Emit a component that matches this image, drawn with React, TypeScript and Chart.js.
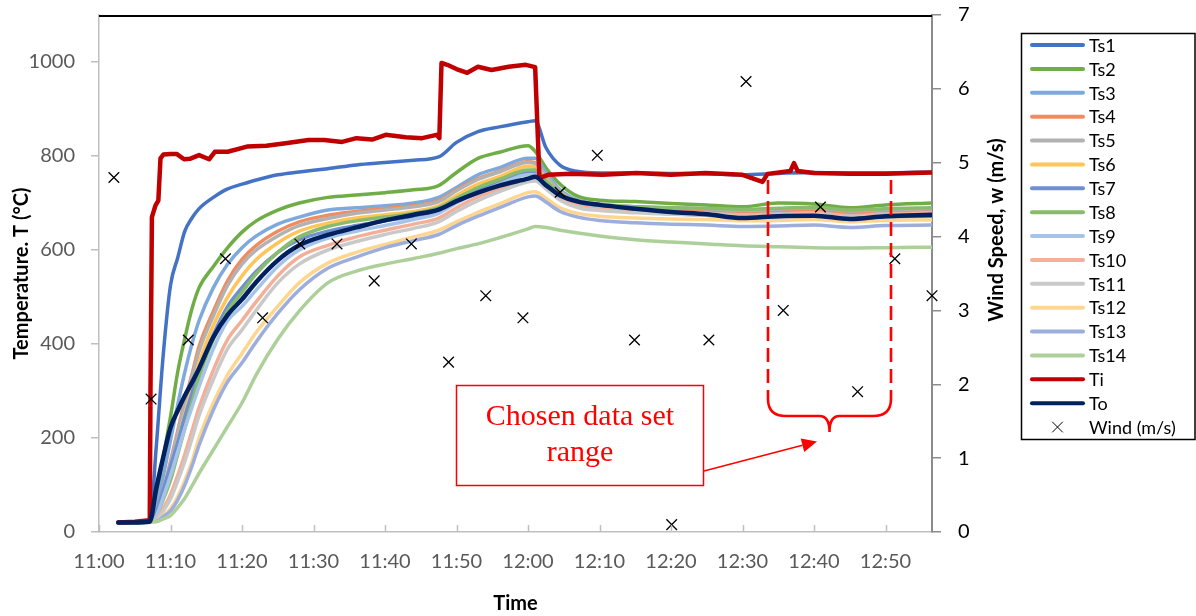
import React, { useEffect, useRef } from "react";
import { Chart, registerables } from "chart.js";

Chart.register(...registerables);

// ---------- DATA ----------
// minutes after 11:00
const GRID_MIN = [2.7, 7.1, 8, 9, 10, 11, 12, 13, 14, 16, 18, 20, 22, 25, 28, 32, 36, 40, 44, 47.5, 50, 53, 56, 60, 61, 62.5, 64.5, 67, 70, 75, 80, 85, 90, 95, 100, 105, 110, 116.5];

const TS1 = [20, 22, 180, 380, 525, 583, 640, 668, 688, 712, 730, 740, 749, 760, 766, 773, 781, 786, 791, 798, 829, 852, 862, 873, 875, 818, 780, 767, 764, 764, 763, 762, 760, 763, 765, 764, 764, 766];
const TS2 = [20, 22, 70, 160, 245, 340, 412, 475, 520, 565, 605, 638, 662, 685, 700, 712, 717, 722, 728, 737, 765, 795, 808, 822, 810, 775, 740, 714, 706, 703, 699, 696, 692, 700, 698, 690, 696, 700];
const TS3 = [20, 22, 55, 120, 195, 270, 340, 400, 450, 520, 570, 605, 630, 655, 670, 685, 690, 694, 700, 712, 733, 760, 775, 795, 795, 765, 728, 706, 697, 692, 688, 685, 681, 683, 685, 679, 683, 685];
const TS4 = [20, 22, 40, 90, 150, 215, 280, 335, 395, 470, 535, 580, 610, 640, 660, 674, 682, 688, 694, 705, 728, 752, 767, 788, 786, 757, 722, 702, 694, 689, 685, 683, 679, 681, 683, 677, 680, 682];
const TS5 = [20, 22, 38, 85, 145, 210, 272, 328, 385, 460, 525, 570, 600, 630, 652, 667, 678, 685, 692, 703, 726, 750, 766, 786, 784, 758, 725, 705, 698, 692, 690, 688, 684, 687, 690, 683, 686, 688];
const TS6 = [20, 22, 35, 78, 130, 190, 250, 305, 360, 440, 500, 545, 580, 615, 640, 657, 668, 675, 682, 694, 716, 740, 756, 778, 776, 750, 718, 698, 690, 684, 680, 677, 673, 675, 677, 671, 675, 677];
const TS7 = [20, 22, 40, 90, 140, 190, 245, 295, 345, 420, 480, 520, 555, 595, 622, 640, 652, 662, 672, 684, 705, 728, 745, 765, 765, 742, 713, 697, 688, 682, 677, 674, 669, 671, 673, 667, 670, 672];
const TS8 = [20, 22, 30, 70, 110, 165, 220, 275, 330, 410, 470, 510, 550, 595, 628, 650, 662, 670, 678, 690, 710, 733, 750, 770, 770, 748, 720, 703, 696, 692, 690, 689, 686, 689, 691, 685, 688, 690];
const TS9 = [20, 22, 33, 75, 120, 170, 220, 265, 310, 390, 450, 480, 515, 565, 600, 625, 640, 652, 665, 678, 700, 722, 740, 760, 760, 740, 712, 695, 688, 683, 680, 678, 675, 677, 679, 673, 677, 679];
const TS10 = [20, 22, 25, 50, 80, 120, 165, 215, 265, 345, 410, 450, 490, 545, 585, 610, 628, 642, 655, 668, 690, 713, 730, 750, 752, 735, 710, 694, 687, 682, 679, 677, 674, 676, 678, 672, 676, 678];
const TS11 = [20, 22, 24, 45, 70, 108, 150, 198, 248, 325, 390, 430, 472, 530, 570, 600, 618, 633, 646, 660, 682, 705, 724, 745, 747, 730, 706, 690, 684, 679, 676, 674, 671, 673, 675, 669, 673, 675];
const TS12 = [20, 22, 23, 35, 50, 75, 110, 150, 200, 275, 335, 380, 425, 480, 530, 572, 595, 612, 628, 642, 660, 680, 698, 722, 724, 710, 690, 678, 672, 668, 666, 665, 662, 663, 665, 660, 663, 664];
const TS13 = [20, 22, 23, 33, 45, 68, 100, 140, 185, 260, 320, 360, 405, 465, 515, 561, 585, 605, 620, 633, 652, 672, 690, 713, 715, 702, 682, 670, 663, 658, 655, 653, 650, 651, 653, 648, 652, 653];
const TS14 = [20, 22, 22, 28, 35, 52, 72, 98, 125, 175, 225, 275, 335, 410, 470, 530, 555, 570, 582, 593, 603, 613, 626, 645, 650, 648, 642, 636, 630, 622, 617, 613, 609, 607, 605, 604, 605, 606];
const TO = [20, 22, 92, 160, 222, 258, 290, 318, 348, 415, 462, 495, 532, 578, 610, 632, 648, 663, 675, 686, 704, 722, 737, 752, 756, 738, 716, 703, 696, 688, 681, 676, 668, 672, 673, 666, 672, 675];

const TI_MIN = [2.7, 5, 7.1, 7.2, 7.4, 7.9, 8.3, 8.6, 9.0, 10, 10.9, 11.9, 12.7, 14, 15.4, 16.2, 18, 20.7, 23.4, 26.1, 29.3, 31.5, 34, 36, 38.2, 40.1, 42.9, 45.2, 47.2, 47.6, 47.9, 48.7, 50, 51.5, 53, 54.9, 57.3, 59.7, 61, 61.3, 61.6, 62.8, 66, 70.4, 75.2, 80, 84.8, 90, 92.8, 93.5, 96.7, 97.2, 97.7, 100, 105, 110, 116.5];
const TI = [20, 22, 25, 300, 670, 695, 705, 795, 803, 804, 804, 793, 794, 802, 793, 809, 809, 820, 822, 827, 834, 834, 830, 838, 835, 845, 840, 838, 845, 838, 998, 994, 985, 977, 990, 983, 990, 994, 989, 870, 753, 760, 762, 760, 764, 760, 764, 760, 745, 762, 768, 785, 768, 764, 762, 762, 765];

const WIND_MIN = [2, 7, 12, 17, 22, 27, 32, 37, 42, 47, 52, 57, 62, 67, 72, 77, 82, 87, 92, 97, 102, 107, 112];
const WIND = [4.8, 1.8, 2.6, 3.7, 2.9, 3.9, 3.9, 3.4, 3.9, 2.3, 3.2, 2.9, 4.6, 5.1, 2.6, 0.1, 2.6, 6.1, 3.0, 4.4, 1.9, 3.7, 3.2];

const TIME_TICKS = [0, 10, 20, 30, 40, 50, 60, 70, 80, 90, 100, 110];

const TS_NAMES = ["Ts1", "Ts2", "Ts3", "Ts4", "Ts5", "Ts6", "Ts7", "Ts8", "Ts9", "Ts10", "Ts11", "Ts12", "Ts13", "Ts14"];
const TS_VALUES = [TS1, TS2, TS3, TS4, TS5, TS6, TS7, TS8, TS9, TS10, TS11, TS12, TS13, TS14];
const TS_COLORS = ["#4472C4", "#70AD47", "#7EA9DC", "#EF8C62", "#B2B2B2", "#FFC55A", "#6E8FD0", "#88BB6C", "#A6C4E8", "#F4AF98", "#C9C9C9", "#FFD690", "#9DAEDD", "#ADD09A"];
const TI_COLOR = "#C00000";
const TO_COLOR = "#002060";

const FONT = "Lato, 'Liberation Sans', sans-serif";

function fmtTime(v: number) {
  const total = 11 * 60 + Math.round(v);
  const h = Math.floor(total / 60);
  const m = total % 60;
  return `${h}:${m < 10 ? "0" + m : m}`;
}

const noVerticalPadding = (s: any) => {
  s.paddingTop = 0;
  s.paddingBottom = 0;
};

const decorPlugin = {
  id: "decor",
  afterDraw(chart: any) {
    const ctx = chart.ctx as CanvasRenderingContext2D;
    const a = chart.chartArea;
    ctx.save();
    // top frame line
    ctx.strokeStyle = "#000";
    ctx.lineWidth = 2;
    ctx.beginPath();
    ctx.moveTo(a.left, a.top + 1);
    ctx.lineTo(a.right, a.top + 1);
    ctx.stroke();
    // inner x tick marks
    const xs = chart.scales.x;
    ctx.strokeStyle = "#BFBFBF";
    ctx.lineWidth = 1.5;
    TIME_TICKS.forEach((v) => {
      const px = Math.round(xs.getPixelForValue(v)) + 0.5;
      ctx.beginPath();
      ctx.moveTo(px, a.bottom);
      ctx.lineTo(px, a.bottom - 7);
      ctx.stroke();
    });
    // right axis title
    ctx.fillStyle = "#000";
    ctx.font = `bold 20px ${FONT}`;
    ctx.textAlign = "center";
    ctx.textBaseline = "middle";
    ctx.translate(997, 230);
    ctx.rotate(-Math.PI / 2);
    ctx.fillText("Wind Speed, w (m/s)", 0, 0);
    ctx.restore();

    // annotation: chosen data set range
    ctx.save();
    ctx.strokeStyle = "#FF0000";
    ctx.fillStyle = "#FF0000";
    ctx.lineWidth = 1.5;
    ctx.strokeRect(456.5, 385.5, 247, 100);
    ctx.font = "30px 'Liberation Serif', 'Times New Roman', serif";
    ctx.textAlign = "center";
    ctx.textBaseline = "alphabetic";
    ctx.fillText("Chosen data set", 580, 425);
    ctx.fillText("range", 580, 461);
    // arrow
    const x0 = 704, y0 = 471, x1 = 817, y1 = 441.5;
    const ang = Math.atan2(y1 - y0, x1 - x0);
    const hl = 15, hw = 7;
    const bx = x1 - hl * Math.cos(ang), by = y1 - hl * Math.sin(ang);
    ctx.beginPath();
    ctx.moveTo(x0, y0);
    ctx.lineTo(bx, by);
    ctx.stroke();
    ctx.beginPath();
    ctx.moveTo(x1, y1);
    ctx.lineTo(bx + hw * Math.sin(ang), by - hw * Math.cos(ang));
    ctx.lineTo(bx - hw * Math.sin(ang), by + hw * Math.cos(ang));
    ctx.closePath();
    ctx.fill();
    // bracket
    const L = 768, R = 891, top = 180, vEnd = 399, hY = 416, mid = (L + R) / 2, tip = 432;
    ctx.lineWidth = 2.6;
    ctx.setLineDash([14, 7]);
    ctx.beginPath();
    ctx.moveTo(L, top);
    ctx.lineTo(L, vEnd);
    ctx.moveTo(R, top);
    ctx.lineTo(R, vEnd);
    ctx.stroke();
    ctx.setLineDash([]);
    ctx.beginPath();
    ctx.moveTo(L, vEnd);
    ctx.quadraticCurveTo(L, hY, L + 18, hY);
    ctx.lineTo(mid - 10, hY);
    ctx.quadraticCurveTo(mid, hY, mid, tip);
    ctx.quadraticCurveTo(mid, hY, mid + 10, hY);
    ctx.lineTo(R - 18, hY);
    ctx.quadraticCurveTo(R, hY, R, vEnd);
    ctx.stroke();
    ctx.restore();
  },
};

const legendPlugin = {
  id: "boxLegend",
  afterDraw(chart: any) {
    const ctx = chart.ctx as CanvasRenderingContext2D;
    ctx.save();
    ctx.strokeStyle = "#000";
    ctx.lineWidth = 1.5;
    ctx.strokeRect(1021.5, 33.5, 173.5, 406);
    ctx.font = `18px ${FONT}`;
    ctx.textBaseline = "middle";
    ctx.textAlign = "left";
    chart.data.datasets.forEach((ds: any, i: number) => {
      const y = 45 + i * 23.88;
      if (ds.showLine === false) {
        const cx = 1057.5, r = 5;
        ctx.strokeStyle = "#000";
        ctx.lineWidth = 1;
        ctx.beginPath();
        ctx.moveTo(cx - r, y - r);
        ctx.lineTo(cx + r, y + r);
        ctx.moveTo(cx + r, y - r);
        ctx.lineTo(cx - r, y + r);
        ctx.stroke();
      } else {
        ctx.strokeStyle = ds.borderColor;
        ctx.lineWidth = 4;
        ctx.lineCap = "round";
        ctx.beginPath();
        ctx.moveTo(1032, y);
        ctx.lineTo(1083, y);
        ctx.stroke();
      }
      ctx.fillStyle = "#000";
      ctx.fillText(ds.label, 1089, y + 1);
    });
    ctx.restore();
  },
};

export default function App() {
  const ref = useRef<HTMLCanvasElement>(null);

  useEffect(() => {
    const canvas = ref.current;
    if (!canvas) return;
    Chart.defaults.font.family = FONT;

    const tsSets = TS_VALUES.map((vals, k) => ({
      label: TS_NAMES[k],
      data: GRID_MIN.map((t, i) => ({ x: t, y: vals[i] })),
      borderColor: TS_COLORS[k],
      backgroundColor: TS_COLORS[k],
      borderWidth: 3.5,
      pointRadius: 0,
      cubicInterpolationMode: "monotone" as const,
      xAxisID: "x",
      yAxisID: "y",
      order: 16 - k,
    }));

    const datasets: any[] = [
      ...tsSets,
      {
        label: "Ti",
        data: TI_MIN.map((t, i) => ({ x: t, y: TI[i] })),
        borderColor: TI_COLOR,
        backgroundColor: TI_COLOR,
        borderWidth: 4.5,
        pointRadius: 0,
        tension: 0,
        xAxisID: "x",
        yAxisID: "y",
        order: 2,
      },
      {
        label: "To",
        data: GRID_MIN.map((t, i) => ({ x: t, y: TO[i] })),
        borderColor: TO_COLOR,
        backgroundColor: TO_COLOR,
        borderWidth: 4.5,
        pointRadius: 0,
        cubicInterpolationMode: "monotone",
        xAxisID: "x",
        yAxisID: "y",
        order: 1,
      },
      {
        label: "Wind (m/s)",
        data: WIND_MIN.map((t, i) => ({ x: t, y: WIND[i] })),
        showLine: false,
        borderColor: "#000",
        backgroundColor: "#000",
        pointStyle: "crossRot",
        pointRadius: 7.5,
        pointBorderWidth: 1.3,
        xAxisID: "x2",
        yAxisID: "y2",
        clip: false,
        order: 0,
      },
    ];

    const chart = new Chart(canvas, {
      type: "line",
      data: { datasets },
      plugins: [decorPlugin, legendPlugin],
      options: {
        responsive: false,
        devicePixelRatio: 1,
        animation: false,
        events: [],
        layout: { autoPadding: false, padding: { top: 15, right: 175, left: 0, bottom: 0 } },
        plugins: {
          legend: { display: false },
          tooltip: { enabled: false },
        },
        elements: {
          line: { borderJoinStyle: "round", borderCapStyle: "round" },
        },
        scales: {
          x: {
            type: "linear",
            position: "bottom",
            min: 0,
            max: 116.5,
            afterBuildTicks: (s: any) => {
              s.ticks = TIME_TICKS.map((v) => ({ value: v }));
            },
            afterFit: (s: any) => {
              s.height = 84;
              s.paddingLeft = 0;
              s.paddingRight = 0;
            },
            grid: { drawOnChartArea: false, drawTicks: false },
            border: { color: "#BFBFBF", width: 1.5 },
            ticks: {
              color: "#595959",
              font: { size: 20 },
              padding: 18,
              maxRotation: 0,
              autoSkip: false,
              callback: (v: any) => fmtTime(Number(v)),
            },
            title: {
              display: true,
              text: "Time",
              color: "#000",
              font: { size: 20, weight: "bold" },
              padding: { top: 4, bottom: 0 },
            },
          },
          x2: {
            type: "linear",
            display: false,
            min: 0,
            max: 112,
          },
          y: {
            type: "linear",
            position: "left",
            min: 0,
            max: 1100,
            afterFit: (s: any) => {
              s.width = 99;
              noVerticalPadding(s);
            },
            ticks: {
              stepSize: 200,
              includeBounds: false,
              color: "#595959",
              font: { size: 20 },
              padding: 16,
              callback: (v: any) => String(v),
            },
            grid: { drawOnChartArea: false, tickLength: 8, color: "#BFBFBF", lineWidth: 1.5 },
            border: { color: "#BFBFBF", width: 1.5 },
            title: {
              display: true,
              text: "Temperature. T (°C)",
              color: "#000",
              font: { size: 20, weight: "bold" },
              padding: { top: 10, bottom: 0 },
            },
          },
          y2: {
            type: "linear",
            position: "right",
            min: 0,
            max: 7,
            afterFit: (s: any) => {
              s.width = 89;
              noVerticalPadding(s);
            },
            ticks: {
              stepSize: 1,
              color: "#000",
              font: { size: 20 },
              padding: 17,
            },
            grid: { drawOnChartArea: false, tickLength: 9, color: "#8C8C8C", lineWidth: 1.5 },
            border: { color: "#8C8C8C", width: 2 },
          },
        },
      } as any,
    });

    return () => chart.destroy();
  }, []);

  return (
    <div style={{ position: "fixed", left: 0, top: 0, width: 1196, height: 616, background: "#fff" }}>
      <canvas ref={ref} width={1196} height={616} style={{ display: "block", width: 1196, height: 616 }} />
    </div>
  );
}
